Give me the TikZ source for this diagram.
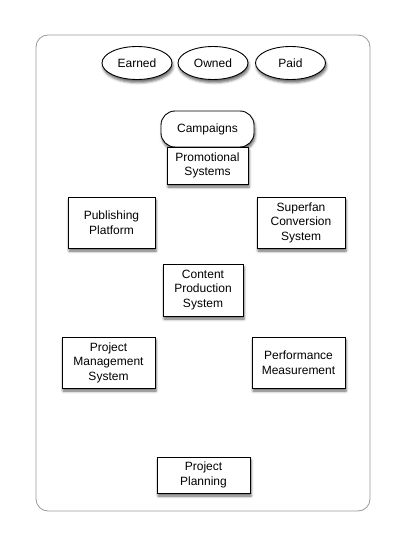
\documentclass[tikz,border=0pt]{standalone}
\usepackage{fontspec}
\setmainfont{Liberation Sans}
\usetikzlibrary{positioning, shadows, shadows.blur, shapes.geometric}
\tikzset{
    %Define style for the systems
    systeem/.style={
           rectangle,
           draw=black, line width=0.9pt,
           fill=white,
           align=center,
           inner sep=2pt,
           font=\fontsize{12}{14.5}\selectfont,
           blur shadow={shadow xshift=1pt, shadow yshift=-3pt, shadow blur radius=2.5pt, shadow opacity=60}},
    % Define style for the media
    kanaal/.style={
           ellipse,
           draw=black, line width=0.9pt,
           fill=white,
           minimum width=70pt,
           minimum height=33pt,
           inner sep=1pt,
           font=\fontsize{12}{14.5}\selectfont,
           blur shadow={shadow xshift=1pt, shadow yshift=-3pt, shadow blur radius=2.5pt, shadow opacity=60}},
}

\begin{document}
\begin{tikzpicture}[x=1pt, y=-1pt]
	\useasboundingbox (0,0) rectangle (413,548);
	%
	% kader
	%
	\draw[gray!80, line width=0.8pt, rounded corners=12pt] (36,35) rectangle (370,511);
	%
	% media
	%
	\node[kanaal] (earned) at (137,63) {Earned};
	\node[kanaal] (owned) at (213,63) {Owned};
	\node[kanaal] (paid) at (290.5,63) {Paid};
	%
	% noeuds
	%
	\node[systeem, rounded corners=14pt, minimum width=93pt, minimum height=36pt] (campaigns) at (207.5,129) {Campaigns};
	\node[systeem, minimum width=81pt, minimum height=37pt] (promo) at (207.5,165.5) {Promotional\\Systems};
	\node[systeem, minimum width=87pt, minimum height=51pt] (publish) at (111.5,222.5) {Publishing\\Platform};
	\node[systeem, minimum width=88pt, minimum height=51pt] (superfan) at (301,222.5) {Superfan\\Conversion\\System};
	\node[systeem, minimum width=80pt, minimum height=52pt] (content) at (203,290) {Content\\Production\\System};
	\node[systeem, minimum width=93pt, minimum height=51pt] (pms) at (108.5,362.5) {Project\\Management\\System};
	\node[systeem, minimum width=93pt, minimum height=51pt] (perf) at (298.5,362.5) {Performance\\Measurement};
	\node[systeem, minimum width=93pt, minimum height=36pt] (planning) at (203.5,475) {Project\\Planning};
\end{tikzpicture}
\end{document}
